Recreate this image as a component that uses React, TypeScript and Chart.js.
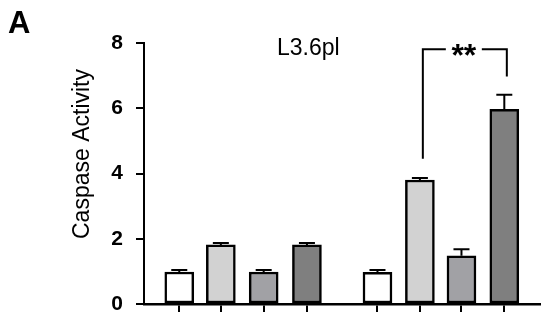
import React, { useEffect, useRef } from "react";
import { Chart, registerables } from "chart.js";

Chart.register(...registerables);

// ---- data ----
const barLabels = ["G1-1", "G1-2", "G1-3", "G1-4", "G2-1", "G2-2", "G2-3", "G2-4"];
const xPositions = [0.84, 1.83, 2.85, 3.88, 5.56, 6.57, 7.56, 8.58];
const values = [0.98, 1.81, 0.98, 1.81, 0.97, 3.8, 1.48, 5.97];
const errors = [0.06, 0.06, 0.06, 0.06, 0.07, 0.06, 0.2, 0.44];
const barColors = ["#ffffff", "#d2d2d2", "#a1a1a5", "#7f7f7f", "#ffffff", "#d2d2d2", "#a1a1a5", "#7f7f7f"];
const yTicks = [0, 2, 4, 6, 8];
const xRange = [0, 9.43];

const panelLabel = "A";
const chartTitle = "L3.6pl";
const yTitle = "Caspase Activity";

// significance bracket
const bracketX = [6.64, 8.64];
const bracketTop = 7.81;
const bracketEnds = [4.45, 6.97];
const bracketText = "**";

const FONT = '"Liberation Sans", Arial, Helvetica, sans-serif';

export default function App() {
  const ref = useRef<HTMLCanvasElement | null>(null);

  useEffect(() => {
    document.body.style.margin = "0";
    const canvas = ref.current;
    if (!canvas) return;
    let alive = true;

    const errorBarPlugin = {
      id: "errorBars",
      afterDatasetsDraw(chart: any) {
        const ctx = chart.ctx;
        const meta = chart.getDatasetMeta(0);
        const ys = chart.scales.y;
        ctx.save();
        ctx.strokeStyle = "#000";
        ctx.lineWidth = 2;
        meta.data.forEach((el: any, i: number) => {
          const x = el.x;
          const yTop = ys.getPixelForValue(values[i] + errors[i]);
          ctx.beginPath();
          ctx.moveTo(x, el.y);
          ctx.lineTo(x, yTop);
          ctx.moveTo(x - 8, yTop);
          ctx.lineTo(x + 8, yTop);
          ctx.stroke();
        });
        ctx.restore();
      },
    };

    const annotPlugin = {
      id: "annot",
      afterDraw(chart: any) {
        const ctx = chart.ctx;
        const xs = chart.scales.x;
        const ys = chart.scales.y;
        ctx.save();
        ctx.fillStyle = "#000";
        ctx.font = `bold 31px ${FONT}`;
        ctx.textAlign = "left";
        ctx.textBaseline = "alphabetic";
        ctx.fillText(panelLabel, 8, 33);
        ctx.font = `23px ${FONT}`;
        ctx.fillText(chartTitle, 277, 55);
        ctx.save();
        ctx.translate(89, 154);
        ctx.rotate(-Math.PI / 2);
        ctx.textAlign = "center";
        ctx.font = `23px ${FONT}`;
        ctx.fillText(yTitle, 0, 0);
        ctx.restore();
        const xl = xs.getPixelForValue(bracketX[0]);
        const xr = xs.getPixelForValue(bracketX[1]);
        const yt = ys.getPixelForValue(bracketTop);
        const yl = ys.getPixelForValue(bracketEnds[0]);
        const yr = ys.getPixelForValue(bracketEnds[1]);
        const cx = (xl + xr) / 2;
        ctx.strokeStyle = "#000";
        ctx.lineWidth = 2;
        ctx.beginPath();
        ctx.moveTo(xl, yl);
        ctx.lineTo(xl, yt);
        ctx.lineTo(cx - 19, yt);
        ctx.moveTo(cx + 17, yt);
        ctx.lineTo(xr, yt);
        ctx.lineTo(xr, yr);
        ctx.stroke();
        ctx.font = `bold 32px ${FONT}`;
        ctx.textAlign = "center";
        ctx.textBaseline = "middle";
        ctx.fillText(bracketText, cx - 1, yt + 8);
        ctx.restore();
      },
    };

    const chart = new Chart(canvas, {
      type: "bar",
      data: {
        labels: barLabels,
        datasets: [
          {
            data: xPositions.map((x, i) => ({ x, y: values[i] })),
            backgroundColor: barColors,
            borderColor: "#000",
            borderWidth: 2.5,
            borderSkipped: false,
            barThickness: 29,
          },
        ],
      },
      options: {
        responsive: false,
        animation: false,
        devicePixelRatio: 1,
        layout: { padding: { top: 43, right: 10, left: 0, bottom: 0 } },
        plugins: { legend: { display: false }, tooltip: { enabled: false }, title: { display: false } },
        scales: {
          x: {
            type: "linear",
            offset: false,
            min: xRange[0],
            max: xRange[1],
            afterBuildTicks(scale: any) {
              scale.ticks = xPositions.map((v) => ({ value: v }));
            },
            afterFit(scale: any) {
              scale.height = 18;
              scale.paddingLeft = 0;
              scale.paddingRight = 0;
              scale.paddingTop = 0;
              scale.paddingBottom = 0;
            },
            ticks: { display: false },
            grid: {
              offset: false,
              drawOnChartArea: false,
              drawTicks: true,
              tickLength: 8,
              color: "#000",
              lineWidth: 2,
            },
            border: { display: true, color: "#000", width: 2.5 },
          },
          y: {
            min: 0,
            max: 8,
            afterBuildTicks(scale: any) {
              scale.ticks = yTicks.map((v) => ({ value: v }));
            },
            afterFit(scale: any) {
              scale.width = 144;
              scale.paddingTop = 0;
              scale.paddingBottom = 0;
            },
            ticks: {
              color: "#000",
              font: { family: FONT, size: 21, weight: "bold" },
              padding: 13,
              callback: (v: any) => String(v),
            },
            grid: {
              drawOnChartArea: false,
              drawTicks: true,
              tickLength: 8,
              color: "#000",
              lineWidth: 2,
            },
            border: { display: true, color: "#000", width: 2 },
          },
        },
      },
      plugins: [errorBarPlugin, annotPlugin],
    } as any);

    const fonts: any = (document as any).fonts;
    if (fonts && fonts.load) {
      Promise.all([
        fonts.load(`20px "Liberation Sans"`),
        fonts.load(`bold 20px "Liberation Sans"`),
      ])
        .catch(() => null)
        .then(() => {
          if (alive) chart.update();
        });
    }

    return () => {
      alive = false;
      chart.destroy();
    };
  }, []);

  return <canvas ref={ref} width={550} height={322} style={{ display: "block", width: 550, height: 322 }} />;
}
